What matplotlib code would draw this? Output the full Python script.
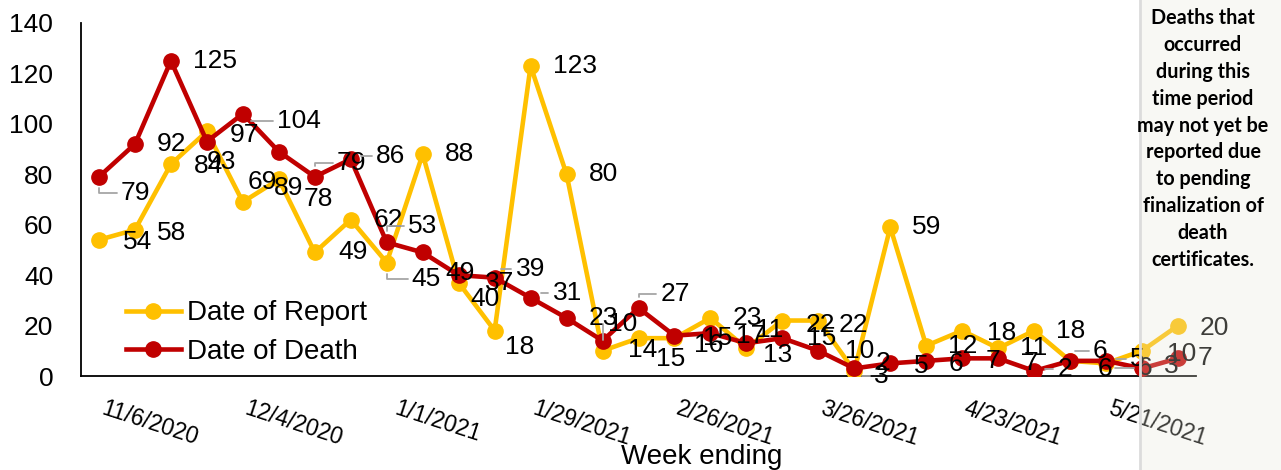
import matplotlib.pyplot as plt
import matplotlib.transforms as mtransforms
from matplotlib.patches import Rectangle
import pandas as pd

plt.rcParams['font.family'] = ['Liberation Sans', 'DejaVu Sans']

# weekly counts, week ending on Fridays
week_ending = pd.date_range('2020-10-30', periods=31, freq='7D')
date_of_report = [54, 58, 84, 97, 69, 78, 49, 62, 45, 88, 37, 18, 123, 80, 10, 15,
                  15, 23, 11, 22, 22, 2, 59, 12, 18, 11, 18, 6, 5, 10, 20]
date_of_death = [79, 92, 125, 93, 104, 89, 79, 86, 53, 49, 40, 39, 31, 23, 14, 27,
                 16, 17, 13, 15, 10, 3, 5, 6, 7, 7, 2, 6, 6, 3, 7]
tick_idx = list(range(1, 31, 4))
note = ('Deaths that\noccurred\nduring this\ntime period\nmay not yet be\n'
        'reported due\nto pending\nfinalization of\ndeath\ncertificates.')

yellow = '#FFC000'
red = '#C00000'
grey = '#A6A6A6'

# label placement (pixels: left edge offset, downward offset) - default is (22, 0)
report_offsets = {0: (24, 2), 1: (22, 3), 2: (23, 2), 3: (23, 4), 4: (5, -20), 5: (25, 20),
                  6: (24, 0), 7: (23, 0), 8: (25, 16), 10: (26, 0), 11: (10, 16), 14: (5, -27),
                  15: (18, 21), 16: (29, 0), 18: (10, -18), 19: (23, 4), 20: (20, 4), 21: (21, -8),
                  24: (25, 2), 27: (23, -10), 28: (24, -4), 29: (25, 3), 30: (22, 2)}
death_offsets = {0: (22, 16), 3: (0, 20), 4: (34, 7), 5: (-5, 36), 6: (22, -14), 7: (25, -3),
                 8: (21, -16), 9: (23, 21), 10: (12, 24), 11: (21, -9), 12: (22, -5), 14: (25, 9),
                 15: (22, -14), 16: (20, 9), 17: (26, 3), 18: (17, 12), 19: (25, 0), 20: (27, 0),
                 21: (20, 8), 22: (24, 3), 23: (22, 3), 24: (23, 3), 25: (25, 5), 26: (23, -2),
                 27: (28, 8), 28: (32, 7), 29: (22, -2), 30: (20, 0)}
report_leaders = {8, 14, 27, 28}
death_leaders = {0, 4, 6, 7, 8, 11, 12, 15, 21, 26, 28}

W, H = 1281, 470
fig = plt.figure(figsize=(W / 100, H / 100), dpi=100)
ax = fig.add_axes([81 / W, 1 - 376 / H, (1196 - 81) / W, (376 - 23) / H])

x = list(range(len(week_ending)))
ax.plot(x, date_of_report, color=yellow, lw=3.3, marker='o', ms=11, label='Date of Report', zorder=3)
ax.plot(x, date_of_death, color=red, lw=3.3, marker='o', ms=11, label='Date of Death', zorder=4)


def add_labels(values, offsets, leaders):
    for i, v in enumerate(values):
        dx, dy = offsets.get(i, (22, 0))
        kw = {}
        if i in leaders:
            kw['arrowprops'] = dict(arrowstyle='-', color=grey, lw=1.3, shrinkA=1, shrinkB=8,
                                    relpos=(0, 0.5),
                                    connectionstyle='angle,angleA=0,angleB=90,rad=0')
        ax.annotate(str(v), (i, v), xytext=(dx, -dy), textcoords='offset pixels',
                    ha='left', va='center', fontsize=19, color='black',
                    annotation_clip=False, zorder=6, **kw)


add_labels(date_of_report, report_offsets, report_leaders)
add_labels(date_of_death, death_offsets, death_leaders)

ax.set_xlim(-0.5, 30.5)
ax.set_ylim(0, 140)
ax.set_yticks(range(0, 141, 20))
ax.spines['top'].set_visible(False)
ax.spines['right'].set_visible(False)
ax.spines['left'].set_linewidth(1.3)
ax.spines['bottom'].set_linewidth(1.3)
ax.tick_params(axis='y', length=0, labelsize=19, pad=20)
ax.tick_params(axis='x', length=0, labelsize=16.5, pad=15)

ax.set_xticks(tick_idx)
ax.set_xticklabels([f'{week_ending[i].month}/{week_ending[i].day}/{week_ending[i].year}'
                    for i in tick_idx], rotation=-18, ha='center')
shift = mtransforms.ScaledTranslation(15 / 100, 0, fig.dpi_scale_trans)
for lab in ax.get_xticklabels():
    lab.set_transform(lab.get_transform() + shift)

ax.set_xlabel('Week ending', fontsize=20)
ax.xaxis.set_label_coords(0.557, -0.192)

ax.legend(loc='lower left', bbox_to_anchor=(0.03, 0.0), frameon=False, fontsize=20,
          handlelength=2.0, handletextpad=0.2, borderaxespad=0, labelspacing=0.45)

# shaded note panel on the right
x0 = 1140 / W
fig.patches.append(Rectangle((x0, 0), 1 - x0, 1, transform=fig.transFigure,
                             facecolor='#E6E6D8', alpha=0.27, edgecolor='none', zorder=10))
fig.lines.append(plt.Line2D([x0, x0], [0, 1], transform=fig.transFigure,
                            color='#DCDCDC', lw=2, zorder=11))
fig.text(1203 / W, 1 - 139 / H, note, ha='center', va='center', fontsize=14.2,
         fontweight='bold', family='Lato', linespacing=1.43, zorder=12)

fig.savefig('out.png', dpi=100)
